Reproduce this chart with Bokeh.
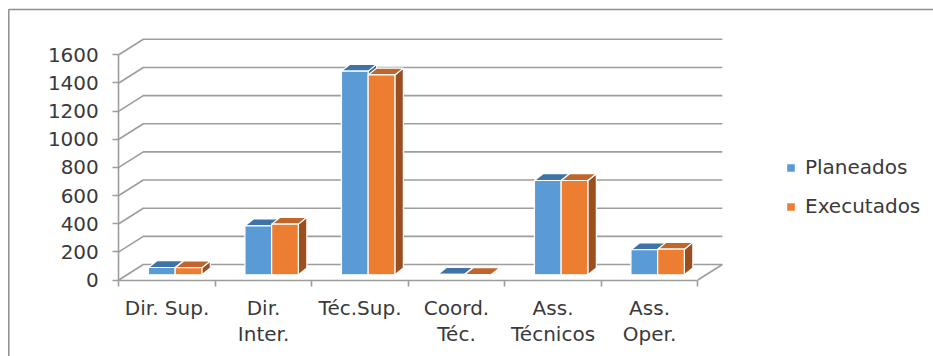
from bokeh.plotting import figure
from bokeh.models import Range1d, LinearAxis, FixedTicker, Legend, LegendItem
from bokeh.embed import file_html
from bokeh.resources import INLINE

# --- data -------------------------------------------------------------
categories = ["Dir. Sup.", "Dir.\nInter.", "Téc.Sup.", "Coord.\nTéc.", "Ass.\nTécnicos", "Ass.\nOper."]
planeados = [52, 348, 1447, 4, 670, 178]
executados = [50, 360, 1420, 2, 670, 182]
series_names = ["Planeados", "Executados"]
y_ticks = [0, 200, 400, 600, 800, 1000, 1200, 1400, 1600]

# --- canvas geometry (pixels) -----------------------------------------
W, H = 933, 356
ORIGIN_X_PX = 118.3      # front-left corner of the floor
ORIGIN_Y_PX = 279.5
CAT_PX = 96.5            # pixels per category slot
VAL_PX = 0.14075         # pixels per unit of value

# oblique projection of the depth axis, in data units
WALL_DX = 24.5 / CAT_PX
WALL_DY = 15.5 / VAL_PX
BAR_OFF_DX = 8.1 / CAT_PX
BAR_OFF_DY = 5.2 / VAL_PX
BAR_DX = 8.5 / CAT_PX
BAR_DY = 6.8 / VAL_PX
BAR_W = 26.7 / CAT_PX

FONT = "DejaVu Sans"
TEXT_COLOR = "#3a3a3a"
GRID_COLOR = "#9d9d9d"

front_colors = ["#5B9BD5", "#ED7D31"]
top_colors = ["#3F73A6", "#C2652A"]
side_colors = ["#3A6A98", "#9C4F1E"]


def px_x(px):
    return (px - ORIGIN_X_PX) / CAT_PX


def px_y(py):
    return (ORIGIN_Y_PX - py) / VAL_PX


p = figure(
    width=W, height=H,
    x_range=Range1d(px_x(0), px_x(W)),
    y_range=Range1d(px_y(H), px_y(0)),
    x_axis_location=None, y_axis_location=None,
    toolbar_location=None, output_backend="svg",
    min_border=0, outline_line_color=None,
    background_fill_color="white", border_fill_color="white",
)
p.xgrid.visible = False
p.ygrid.visible = False

# chart-area border (top and left edges)
p.line([px_x(8.3), px_x(8.3), px_x(W + 5)], [px_y(H + 5), px_y(9), px_y(9)],
       line_color="#8f8f8f", line_width=1.5)

# --- walls: side-wall diagonals and back-wall gridlines ----------------
n = len(categories)
grid_xs, grid_ys = [], []
for v in y_ticks:
    grid_xs.append([0, WALL_DX, n + WALL_DX])
    grid_ys.append([v, v + WALL_DY, v + WALL_DY])
# right edge of the floor
grid_xs.append([n, n + WALL_DX])
grid_ys.append([0, WALL_DY])
p.multi_line(grid_xs, grid_ys, line_color=GRID_COLOR, line_width=1.6)

# --- 3D columns --------------------------------------------------------
front_renderers = []
for s, values in enumerate([planeados, executados]):
    fx, fy, tx, ty, sx, sy = [], [], [], [], [], []
    for i, v in enumerate(values):
        x0 = i + 0.5 + BAR_OFF_DX + (s - 1) * BAR_W
        x1 = x0 + BAR_W
        y0 = BAR_OFF_DY
        y1 = y0 + v
        fx.append([x0, x1, x1, x0])
        fy.append([y0, y0, y1, y1])
        tx.append([x0, x1, x1 + BAR_DX, x0 + BAR_DX])
        ty.append([y1, y1, y1 + BAR_DY, y1 + BAR_DY])
        sx.append([x1, x1 + BAR_DX, x1 + BAR_DX, x1])
        sy.append([y0, y0 + BAR_DY, y1 + BAR_DY, y1])
    p.patches(sx, sy, fill_color=side_colors[s], line_color="white", line_width=1.2)
    p.patches(tx, ty, fill_color=top_colors[s], line_color="white", line_width=1.2)
    r = p.patches(fx, fy, fill_color=front_colors[s], line_color="white", line_width=1.2)
    front_renderers.append(r)

# --- axes on the front plane ------------------------------------------
yaxis = LinearAxis(fixed_location=0, ticker=FixedTicker(ticks=y_ticks), bounds=(0, 1600))
yaxis.axis_line_color = GRID_COLOR
yaxis.axis_line_width = 1.6
yaxis.major_tick_line_color = GRID_COLOR
yaxis.major_tick_line_width = 1.6
yaxis.major_tick_out = 6
yaxis.major_tick_in = 0
yaxis.minor_tick_line_color = None
yaxis.major_label_standoff = 14
yaxis.major_label_text_font = FONT
yaxis.major_label_text_font_size = "20px"
yaxis.major_label_text_color = TEXT_COLOR
p.add_layout(yaxis, "left")

centers = [i + 0.5 for i in range(n)]
xaxis = LinearAxis(
    fixed_location=0,
    ticker=FixedTicker(ticks=centers, minor_ticks=list(range(n + 1))),
    bounds=(0, n),
    major_label_overrides={c: lab for c, lab in zip(centers, categories)},
)
xaxis.axis_line_color = GRID_COLOR
xaxis.axis_line_width = 1.6
xaxis.major_tick_line_color = None
xaxis.major_tick_out = 0
xaxis.major_tick_in = 0
xaxis.minor_tick_line_color = GRID_COLOR
xaxis.minor_tick_line_width = 1.6
xaxis.minor_tick_out = 6
xaxis.minor_tick_in = 0
xaxis.major_label_standoff = 10
xaxis.major_label_text_font = FONT
xaxis.major_label_text_font_size = "20px"
xaxis.major_label_text_line_height = 1.08
xaxis.major_label_text_color = TEXT_COLOR
p.add_layout(xaxis, "below")

# --- legend -----------------------------------------------------------
legend = Legend(
    items=[LegendItem(label=name, renderers=[r]) for name, r in zip(series_names, front_renderers)],
    location=(785, 138),
    padding=0, margin=0, spacing=15,
    glyph_width=11, glyph_height=11, label_standoff=9,
    label_text_font=FONT, label_text_font_size="20px", label_text_color=TEXT_COLOR,
    border_line_color=None, background_fill_alpha=0,
)
p.add_layout(legend)

open("out.html", "w").write(file_html(p, INLINE))
